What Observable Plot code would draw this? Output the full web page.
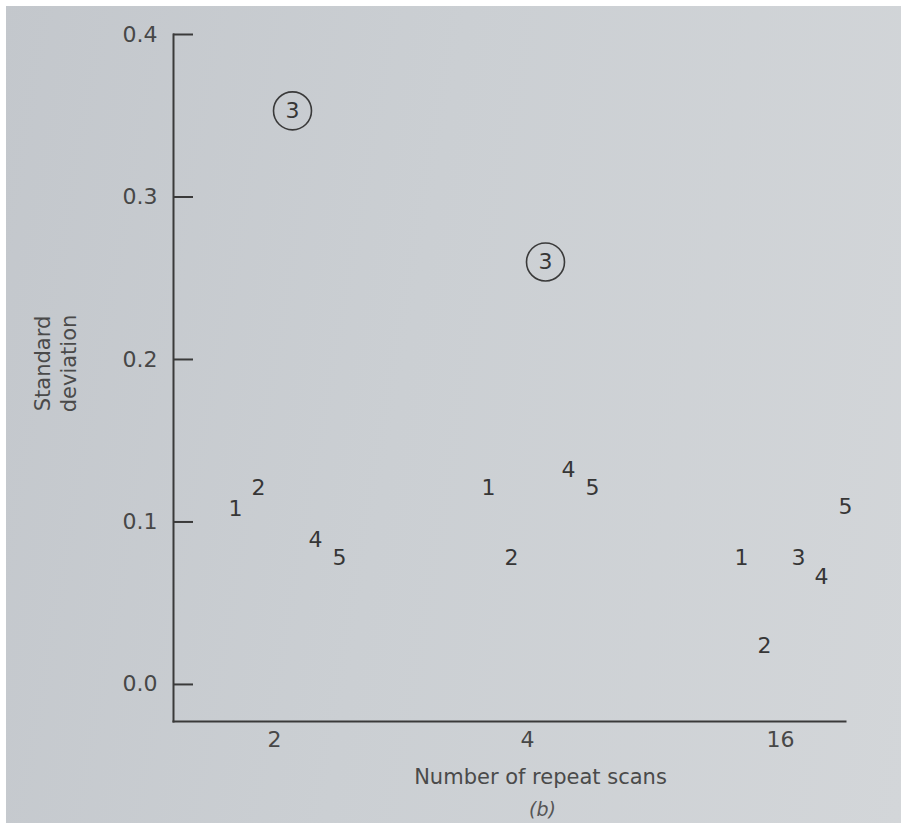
<!DOCTYPE html>
<html>
<head>
<meta charset="utf-8">
<script src="https://cdn.jsdelivr.net/npm/d3@7"></script>
<script src="https://cdn.jsdelivr.net/npm/@observablehq/plot@0.6"></script>
<style>
  html, body { margin: 0; padding: 0; background: #ffffff; }
  #wrap { position: relative; width: 901px; height: 823px; overflow: hidden;
          background: linear-gradient(100deg, #c3c7cc 0%, #cbcfd3 45%, #d3d6d9 100%); }
  #wrap svg { position: absolute; left: 0; top: 0; }
  .edge-top { position: absolute; left: 0; top: 0; width: 901px; height: 6px; background: #fff; }
  .edge-left { position: absolute; left: 0; top: 0; width: 6px; height: 823px; background: #fff; }
</style>
</head>
<body>
<div id="wrap"><div class="edge-top"></div><div class="edge-left"></div></div>
<script>
// ---- data ----
const groups = ["2", "4", "16"];                 // number of repeat scans
const seriesLabels = ["1", "2", "3", "4", "5"];
const series1 = [0.108, 0.121, 0.078];
const series2 = [0.121, 0.078, 0.024];
const series3 = [0.353, 0.260, 0.078];
const series4 = [0.089, 0.132, 0.066];
const series5 = [0.078, 0.121, 0.109];
const circled3 = [true, true, false];             // circled outliers of series 3
const yTicks = [0, 0.1, 0.2, 0.3, 0.4];
const yTickLabels = ["0.0", "0.1", "0.2", "0.3", "0.4"];
const xTitle = "Number of repeat scans";
const yTitle = "Standard\ndeviation";
const panelLabel = "(b)";

// ---- styling / layout (not data) ----
const seriesDx = [-39, -16, 18, 41, 65];
const ink = "#363636";

const allSeries = [series1, series2, series3, series4, series5];
const textMarks = allSeries.map((vals, i) =>
  Plot.text(groups.map((g, j) => ({g, v: vals[j], s: seriesLabels[i]})), {
    x: "g", y: "v", text: "s", dx: seriesDx[i], fill: ink, fontSize: 22
  })
);
const circledData = groups
  .map((g, j) => ({g, v: series3[j], c: circled3[j]}))
  .filter(d => d.c);

const chart = Plot.plot({
  width: 901,
  height: 823,
  marginLeft: 173,
  marginRight: 56,
  marginTop: 34,
  marginBottom: 102,
  style: {fontFamily: "DejaVu Sans", fontSize: "22px", color: ink, background: "transparent", overflow: "visible"},
  x: {type: "point", domain: groups, range: [273, 780], padding: 0},
  y: {domain: [-0.0228, 0.4]},
  marks: [
    Plot.frame({anchor: "left", stroke: "#3a3a3a", strokeWidth: 2}),
    Plot.frame({anchor: "bottom", stroke: "#3a3a3a", strokeWidth: 2}),
    Plot.ruleY(yTicks, {insetRight: 652, stroke: "#3a3a3a", strokeWidth: 2}),
    Plot.axisY(yTicks, {tickSize: 0, tickPadding: 16, fontSize: 22, fill: "#474747",
      tickFormat: d => yTickLabels[yTicks.indexOf(d)], label: null}),
    Plot.axisX({tickSize: 0, tickPadding: 10, fontSize: 22, fill: "#474747", label: null}),
    ...textMarks,
    Plot.dot(circledData, {x: "g", y: "v", dx: seriesDx[2], r: 19, stroke: "#3a3a3a", strokeWidth: 1.6, fill: "none"}),
    Plot.text([xTitle], {frameAnchor: "bottom", textAnchor: "middle", lineAnchor: "middle", dx: 31, dy: 56, fontSize: 21, fill: "#4a4a4a"}),
    Plot.text([panelLabel], {frameAnchor: "bottom", textAnchor: "middle", lineAnchor: "middle", dx: 33, dy: 88, fontSize: 19, fontStyle: "italic", fill: "#555"}),
    Plot.text([yTitle], {frameAnchor: "left", textAnchor: "middle", lineAnchor: "middle", dx: -118.5, dy: -14.5, rotate: -90, fontSize: 21, lineHeight: 1.2, fill: "#4a4a4a"})
  ]
});
document.getElementById("wrap").appendChild(chart);
</script>
</body>
</html>
